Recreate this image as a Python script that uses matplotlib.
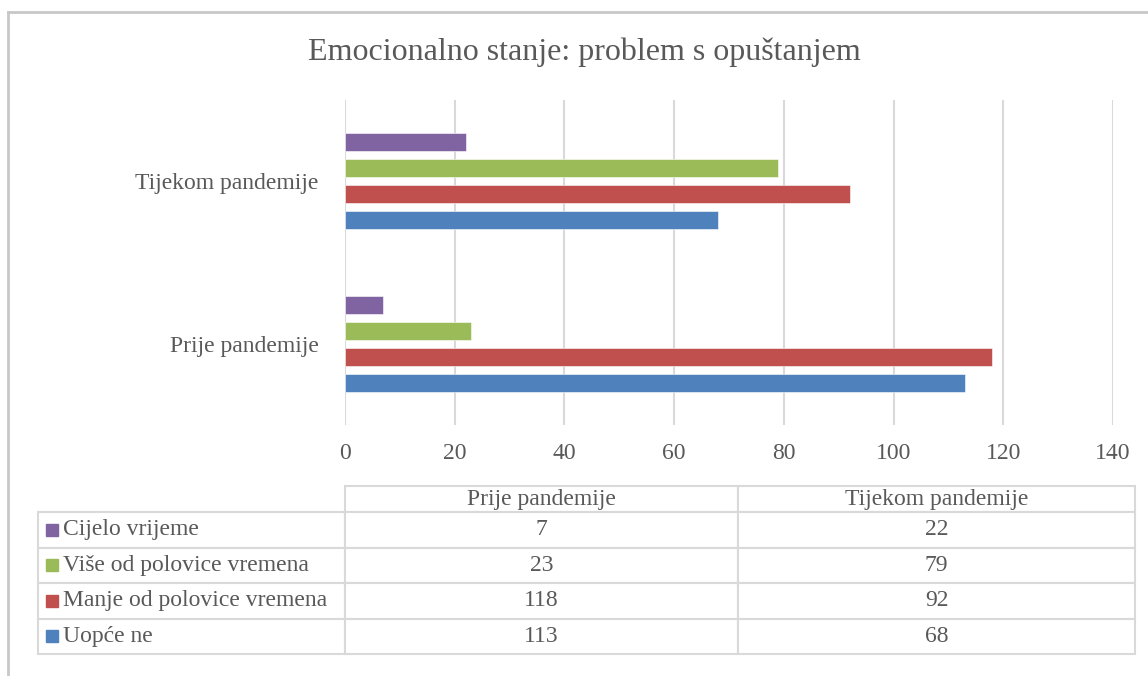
import matplotlib
matplotlib.use("Agg")
import matplotlib.pyplot as plt
from matplotlib.table import Table
from matplotlib.patches import Rectangle
from matplotlib.lines import Line2D

plt.rcParams["font.family"] = ["Liberation Serif", "DejaVu Serif"]

title = "Emocionalno stanje: problem s opuštanjem"
periods = ["Prije pandemije", "Tijekom pandemije"]
# series listed bottom-to-top inside each group
series = ["Uopće ne", "Manje od polovice vremena", "Više od polovice vremena", "Cijelo vrijeme"]
colors = ["#4F81BD", "#C0504D", "#9BBB59", "#8064A2"]
values = {
    "Uopće ne": [113, 68],
    "Manje od polovice vremena": [118, 92],
    "Više od polovice vremena": [23, 79],
    "Cijelo vrijeme": [7, 22],
}
xticks = [0, 20, 40, 60, 80, 100, 120, 140]

TXT = "#595959"
GRID = "#D9D9D9"

fig = plt.figure(figsize=(11.48, 6.76), dpi=100)
W, H = 1148, 676
ax = fig.add_axes([345 / W, 1 - 425 / H, 768 / W, 325 / H])

step, bh = 0.16, 0.11
for i, s in enumerate(series):
    ys = [c + (i - 1.5) * step for c in range(len(periods))]
    ax.barh(ys, values[s], height=bh, color=colors[i], edgecolor="white",
            linewidth=0.4, zorder=3)

ax.set_xlim(0, 140)
ax.set_ylim(-0.5, 1.5)
ax.set_xticks(xticks)
ax.set_yticks(range(len(periods)))
ax.set_yticklabels(periods)
ax.xaxis.grid(True, color=GRID, linewidth=1.5, zorder=0)
ax.tick_params(axis="both", length=0, colors=TXT, labelsize=17)
ax.tick_params(axis="x", pad=13)
ax.tick_params(axis="y", pad=19)
for sp in ax.spines.values():
    sp.set_visible(False)

fig.text(584 / W, 1 - 52 / H, title, ha="center", va="center", fontsize=23, color=TXT)

# data table under the axis
px_x, px_y = 768.0, 325.0
tab_left, tab_right, tab_top, tab_bot = 38, 1135, 486, 654
col_w = [307, 393, 397]
head_h, row_h = 26, 35.5
tbl = Table(ax, bbox=[(tab_left - 345) / px_x, (425 - tab_bot) / px_y,
                      (tab_right - tab_left) / px_x, (tab_bot - tab_top) / px_y])
for j, p in enumerate(periods):
    c = tbl.add_cell(0, j + 1, width=col_w[j + 1], height=head_h, text=p, loc="center")
table_rows = series[::-1]
for r, s in enumerate(table_rows, start=1):
    c = tbl.add_cell(r, 0, width=col_w[0], height=row_h, text=s, loc="left")
    c.PAD = 25 / col_w[0]
    for j in range(len(periods)):
        tbl.add_cell(r, j + 1, width=col_w[j + 1], height=row_h,
                     text=str(values[s][j]), loc="center")
tbl.auto_set_font_size(False)
tbl.set_fontsize(17)
for cell in tbl.get_celld().values():
    cell.set_edgecolor(GRID)
    cell.set_linewidth(1.5)
    cell.get_text().set_color(TXT)
tbl.set_clip_on(False)
ax.add_table(tbl)

# colour keys in the row-label cells
sq = 12
for r, s in enumerate(table_rows):
    yc = tab_top + head_h + row_h * (r + 0.5)
    ax.add_patch(Rectangle(((46 - 345) / px_x, (425 - yc - sq / 2) / px_y),
                           sq / px_x, sq / px_y, transform=ax.transAxes,
                           color=colors[series.index(s)], clip_on=False, zorder=5))

# chart frame (top and left edges visible)
fig.add_artist(Line2D([8 / W, 8 / W], [0, 1 - 12 / H], color="#C8C8C8", linewidth=2))
fig.add_artist(Line2D([8 / W, 1], [1 - 12 / H, 1 - 12 / H], color="#C8C8C8", linewidth=2))

fig.savefig("out.png", dpi=100)
